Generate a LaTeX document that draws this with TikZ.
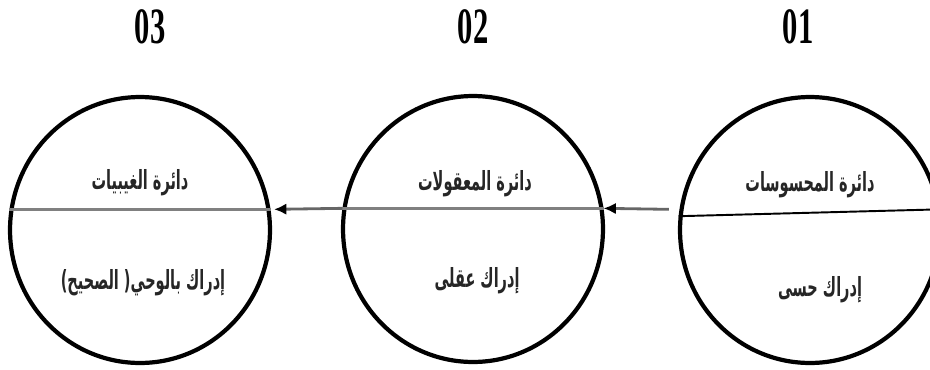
\documentclass[tikz,border=0pt]{standalone}
\usepackage{fontspec}
\newfontfamily\arabicfont[Script=Arabic, FakeStretch=0.55]{DejaVu Sans}
\newfontfamily\numfont[FakeStretch=0.6]{Liberation Serif}
\TeXXeTstate=1
\usetikzlibrary{arrows.meta,shapes.geometric}

\begin{document}
\begin{tikzpicture}[
    x=0.02cm, y=-0.02cm,
    >=Latex,
    circ/.style={draw, ellipse, line width=2.4pt, minimum width=5.2cm, minimum height=5.32cm, inner sep=0pt},
    sepline/.style={line width=1.7pt, black!50},
    arr/.style={-{Latex[length=7pt,width=6.5pt,black]}, line width=1.6pt, black!60},
    lab/.style={font=\arabicfont\bfseries\fontsize{15}{17}\selectfont, inner sep=0pt, text=black!85},
    num/.style={font=\numfont\bfseries\fontsize{29}{34}\selectfont, inner sep=0pt}
  ]
  \useasboundingbox (0,0) rectangle (930,369);
  % the three circles, right to left
  \node[circ] (c1) at (810,230) {};
  \node[circ] (c2) at (473,229) {};
  \node[circ] (c3) at (140,230) {};
  \node[num] (n1) at (798,27) {01};
  \node[num] (n2) at (473,27) {02};
  \node[num] (n3) at (150,27) {03};
  \node[lab] (t1) at (810,185) {\beginR دائرة المحسوسات\endR};
  \node[lab] (b1) at (820,290) {\beginR إدراك حسى\endR};
  \node[lab] (t2) at (475,184) {\beginR دائرة المعقولات\endR};
  \node[lab] (b2) at (477,281) {\beginR إدراك عقلى\endR};
  \node[lab] (t3) at (140,183) {\beginR دائرة الغيبيات\endR};
  \node[lab] (b3) at (143,283) {\beginR إدراك بالوحي( الصحيح)\endR};
  \draw[line width=1.1pt] (c1.174) -- (c1.9);
  \draw[sepline] (c2.171) -- (c2.9);
  \draw[sepline] (c3.171) -- (c3.9);
  \draw[arr] ([xshift=-6pt]c1.171) -- (c2.9);
  \draw[arr] (c2.171) -- ([xshift=2pt]c3.9);
\end{tikzpicture}
\end{document}
